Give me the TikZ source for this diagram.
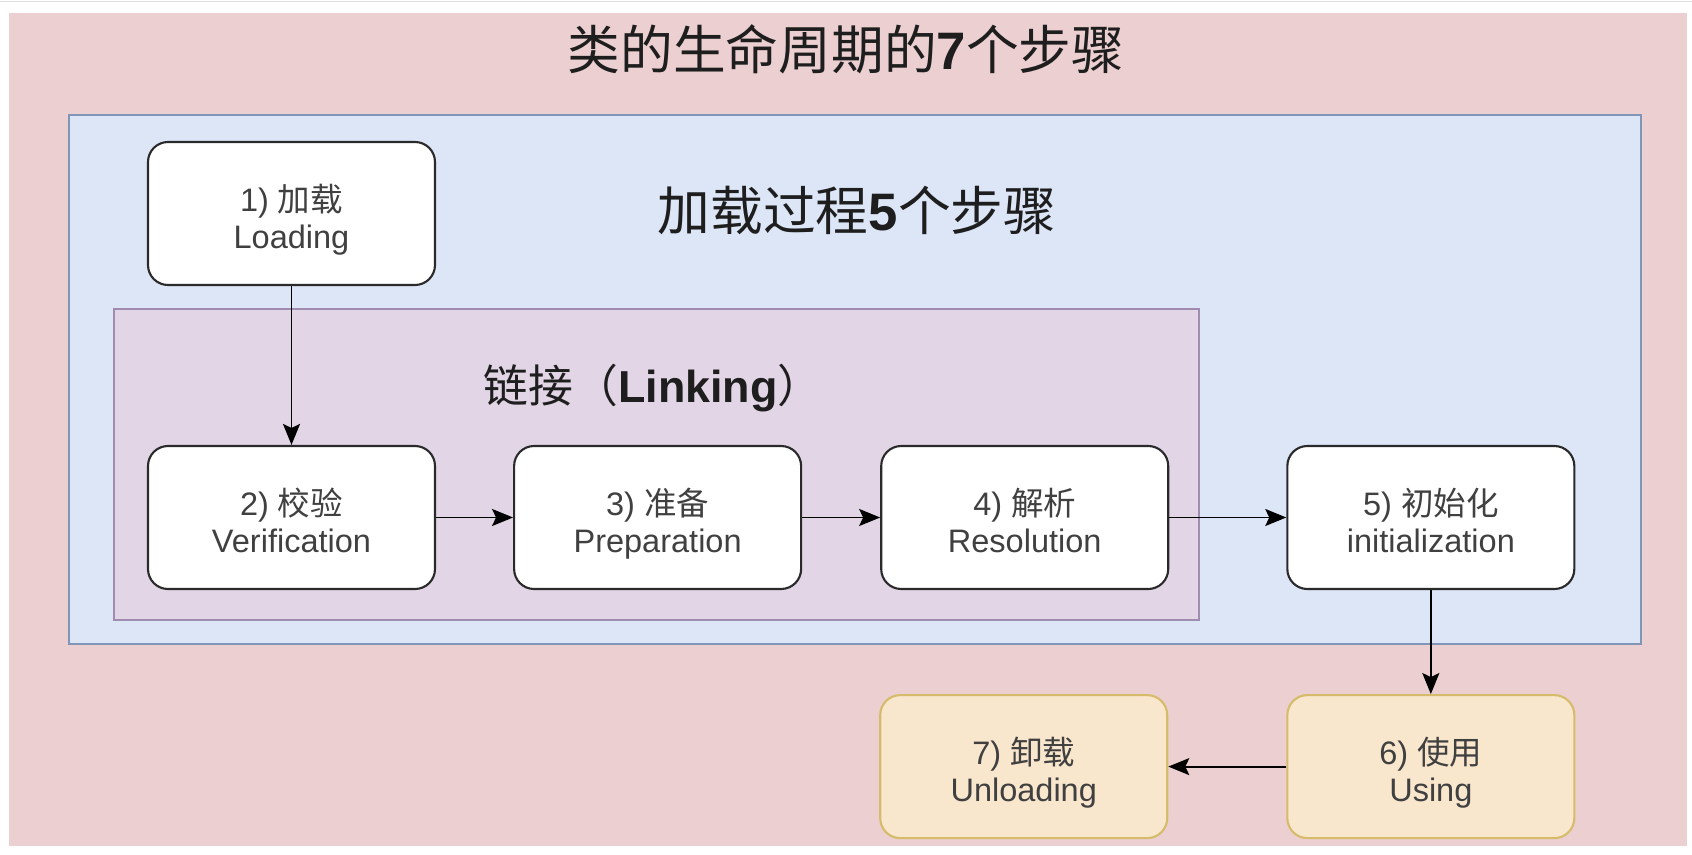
\documentclass[tikz,border=0pt]{standalone}
\usepackage{fontspec}
\setmainfont{Liberation Sans}
\newfontfamily\cjk{Noto Sans CJK SC}
\usetikzlibrary{arrows.meta, positioning}

\definecolor{lifepink}{HTML}{ECCFD0}
\definecolor{loadblue}{HTML}{DCE6F7}
\definecolor{loadline}{HTML}{8195B6}
\definecolor{linkpurple}{HTML}{E1D5E6}
\definecolor{linkline}{HTML}{A08CB0}
\definecolor{useyellow}{HTML}{F8E6CD}
\definecolor{useline}{HTML}{D6BC6A}
\definecolor{boxline}{HTML}{2A2A2A}
\definecolor{boxtext}{HTML}{404040}
\definecolor{titletext}{HTML}{1E1E1E}

% two lines of a step: number + chinese name, english name
\newcommand{\steplabel}[3]{\rule{0pt}{1.22em}#1) {\cjk #2}\\#3\vphantom{g}}

\begin{document}
\begin{tikzpicture}[
    x=1cm, y=1cm,
    >= {Stealth[length=4.2mm, width=3.4mm, inset=0.8mm]},
    stepbox/.style={draw=boxline, line width=1.2pt, rounded corners=4mm,
        fill=white, minimum width=5.74cm, minimum height=2.86cm,
        align=center, text=boxtext, inner sep=0pt,
        font=\fontsize{18.5}{21.5}\selectfont},
    usebox/.style={stepbox, draw=useline, fill=useyellow},
    flow/.style={->, line width=1.1pt, black},
    ]

    \useasboundingbox (0,0) rectangle (33.84,17.08);
    \fill[white] (0,0) rectangle (33.84,17.08);
    \draw[black!12, line width=0.8pt] (0,17.05) -- (33.84,17.05);

    % ==========================================
    % Background regions
    % ==========================================
    \fill[lifepink] (0.18,0.16) rectangle (33.74,16.82);
    \draw[loadline, fill=loadblue, line width=0.8pt] (1.38,4.2) rectangle (32.82,14.78);
    \draw[linkline, fill=linkpurple, line width=0.8pt] (2.28,4.68) rectangle (23.98,10.9);

    % Titles
    \node[font=\fontsize{30}{34}\selectfont, text=titletext] (title) at (16.92,16.1)
        {{\cjk 类的生命周期的}\textbf{7}{\cjk 个步骤}};
    \node[font=\fontsize{30}{34}\selectfont, text=titletext] (loadtitle) at (17.14,12.88)
        {{\cjk 加载过程}\textbf{5}{\cjk 个步骤}};
    \node[font=\fontsize{25.5}{30}\selectfont, text=titletext] (linktitle) at (13.06,9.32)
        {{\cjk 链接（}\textbf{Linking}{\cjk ）}};

    % ==========================================
    % The 7 steps
    % ==========================================
    \node[stepbox] (load) at (5.83,12.81) {\steplabel{1}{加载}{Loading}};
    \node[stepbox] (verify) at (5.83,6.73) {\steplabel{2}{校验}{Verification}};
    \node[stepbox, right=1.54cm of verify] (prepare) {\steplabel{3}{准备}{Preparation}};
    \node[stepbox, right=1.56cm of prepare] (resolve) {\steplabel{4}{解析}{Resolution}};
    \node[stepbox, right=2.34cm of resolve] (init) {\steplabel{5}{初始化}{initialization}};
    \node[usebox, below=2.08cm of init] (use) {\steplabel{6}{使用}{Using}};
    \node[usebox, left=2.36cm of use] (unload) {\steplabel{7}{卸载}{Unloading}};

    % ==========================================
    % Arrows between steps
    % ==========================================
    \foreach \from/\to in {load/verify, verify/prepare, prepare/resolve,
        resolve/init, init/use, use/unload}
        \draw[flow] (\from) -- (\to);

\end{tikzpicture}
\end{document}
